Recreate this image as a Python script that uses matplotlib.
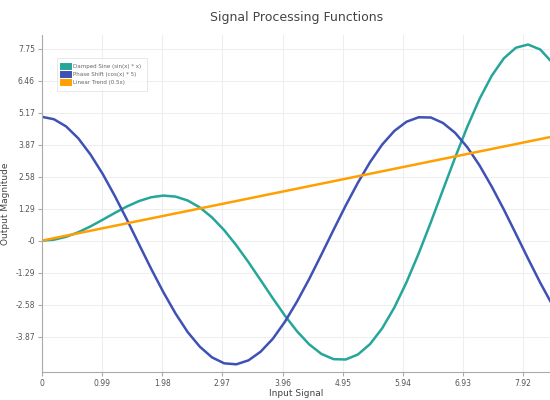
import matplotlib.pyplot as plt
import numpy as np

x_vals = [0.0, 0.2, 0.4, 0.6, 0.8, 1.0, 1.2, 1.4, 1.6, 1.8, 2.0, 2.2, 2.4, 2.6, 2.8,
          3.0, 3.2, 3.4, 3.6, 3.8, 4.0, 4.2, 4.4, 4.6, 4.8, 5.0, 5.2, 5.4, 5.6, 5.8,
          6.0, 6.2, 6.4, 6.6, 6.8, 7.0, 7.2, 7.4, 7.6, 7.8, 8.0, 8.2, 8.4]
damped_sine = [0, 0.040, 0.156, 0.339, 0.574, 0.842, 1.118, 1.380, 1.599, 1.753, 1.819,
               1.779, 1.621, 1.340, 0.938, 0.423, -0.187, -0.869, -1.593, -2.325, -3.027,
               -3.661, -4.187, -4.571, -4.782, -4.795, -4.594, -4.173, -3.535, -2.695,
               -1.676, -0.515, 0.746, 2.056, 3.360, 4.599, 5.715, 6.650, 7.356, 7.788,
               7.915, 7.714, 7.179]
phase_shift = [5, 4.90, 4.61, 4.13, 3.48, 2.70, 1.81, 0.85, -0.15, -1.14, -2.08, -2.94,
               -3.69, -4.28, -4.71, -4.95, -4.99, -4.83, -4.48, -3.96, -3.27, -2.45, -1.54,
               -0.56, 0.44, 1.42, 2.34, 3.17, 3.88, 4.43, 4.80, 4.98, 4.97, 4.75, 4.35,
               3.77, 3.04, 2.19, 1.26, 0.27, -0.73, -1.70, -2.60]
linear_trend = [0.0, 0.1, 0.2, 0.3, 0.4, 0.5, 0.6, 0.7, 0.8, 0.9, 1.0, 1.1, 1.2, 1.3, 1.4,
                1.5, 1.6, 1.7, 1.8, 1.9, 2.0, 2.1, 2.2, 2.3, 2.4, 2.5, 2.6, 2.7, 2.8, 2.9,
                3.0, 3.1, 3.2, 3.3, 3.4, 3.5, 3.6, 3.7, 3.8, 3.9, 4.0, 4.1, 4.2]
x_ticks = [0, 0.99, 1.98, 2.97, 3.96, 4.95, 5.94, 6.93, 7.92]
x_labels = ['0', '0.99', '1.98', '2.97', '3.96', '4.95', '5.94', '6.93', '7.92']
y_ticks = [-3.87, -2.58, -1.29, 0, 1.29, 2.58, 3.87, 5.17, 6.46, 7.75]
y_labels = ['-3.87', '-2.58', '-1.29', '-0', '1.29', '2.58', '3.87', '5.17', '6.46', '7.75']

fig = plt.figure(figsize=(5.5, 4), dpi=100)
ax = fig.add_axes([0.076, 0.07, 0.924, 0.8425])

ax.plot(x_vals, damped_sine, color='#26a69a', lw=1.8, label='Damped Sine (sin(x) * x)')
ax.plot(x_vals, phase_shift, color='#3f51b5', lw=1.8, label='Phase Shift (cos(x) * 5)')
ax.plot(x_vals, linear_trend, color='#ffa000', lw=1.8, label='Linear Trend (0.5x)')

ax.set_xlim(0, 8.36)
ax.set_ylim(-5.3, 8.3)
ax.set_xticks(x_ticks, x_labels)
ax.set_yticks(y_ticks, y_labels)
ax.tick_params(labelsize=5.5, colors='#555555', length=3, color='#aaaaaa', pad=2)
ax.grid(True, color='#eeeeee', lw=0.8)
for s in ['top', 'right']:
    ax.spines[s].set_visible(False)
for s in ['left', 'bottom']:
    ax.spines[s].set_color('#aaaaaa')

ax.set_xlabel('Input Signal', fontsize=6.5, color='#444444', labelpad=1)
ax.set_ylabel('Output Magnitude', fontsize=6.5, color='#444444', labelpad=4)
fig.text(0.54, 0.955, 'Signal Processing Functions', ha='center', va='center',
         fontsize=9, color='#444444')

leg = ax.legend(loc='upper left', bbox_to_anchor=(0.025, 0.94), fontsize=4,
                handlelength=1, handleheight=1, frameon=True, fancybox=False,
                borderpad=1.0, labelspacing=0.5)
leg.get_frame().set_edgecolor('#dddddd')
leg.get_frame().set_linewidth(0.6)
for h in leg.legend_handles:
    h.set_linewidth(5)
for t in leg.get_texts():
    t.set_color('#666666')

plt.savefig('out.png')
